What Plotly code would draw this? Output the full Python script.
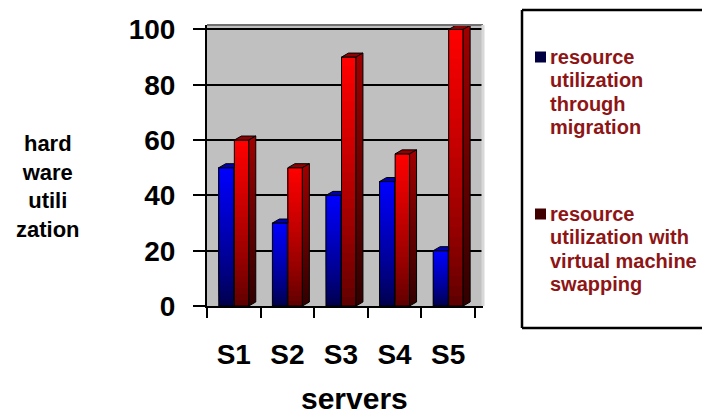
import plotly.graph_objects as go

# ---- data ----
servers = ["S1", "S2", "S3", "S4", "S5"]
migration = [50, 30, 40, 45, 20]
swapping = [60, 50, 90, 55, 100]
y_tick_values = [0, 20, 40, 60, 80, 100]
series_names = [
    ["resource", "utilization", "through", "migration"],
    ["resource", "utilization with", "virtual machine", "swapping"],
]

# ---- geometry / style ----
W, H = 702, 415
L, R, T, B = 207, 483, 25, 306          # plot area in pixels
X_RANGE = [-0.5, 4.65]
Y_RANGE = [0, 101.6]
FONT = "Arial, 'Liberation Sans', sans-serif"
N_SEG = 28                               # slices used for the vertical shading
DX, DY = 0.13, 1.45                      # depth of the 3-D faces (data units)
LEGEND_LINE = 23.3                       # legend line pitch in pixels


def px_x(p):
    return (p - L) / (R - L)


def px_y(p):
    return (B - p) / (B - T)


def lerp(c0, c1, t):
    return "rgb(%d,%d,%d)" % tuple(round(a + (b - a) * t) for a, b in zip(c0, c1))


fig = go.Figure()

bar_specs = [
    # values, offset, width, bottom colour, top colour
    (migration, -0.28, 0.28, (0, 0, 70), (0, 0, 255)),
    (swapping, 0.01, 0.27, (90, 0, 0), (255, 0, 0)),
]

for values, off, wid, dark, bright in bar_specs:
    # each slice runs from its own base up to the bar top; later (lighter)
    # slices cover the upper part of earlier ones, so no seams appear
    for i in range(N_SEG):
        t = ((i + 0.5) / N_SEG) ** 0.8
        fig.add_trace(go.Bar(
            x=servers, y=[v * (N_SEG - i) / N_SEG for v in values],
            base=[v * i / N_SEG for v in values],
            width=wid, offset=off,
            marker=dict(color=lerp(dark, bright, t), line=dict(width=0)),
            showlegend=False, hoverinfo="skip",
        ))
    fig.add_trace(go.Bar(
        x=servers, y=values, width=wid, offset=off,
        marker=dict(color="rgba(0,0,0,0)", line=dict(color="black", width=1)),
        showlegend=False, hoverinfo="skip",
    ))

# 3-D faces: top caps of both series, right side of the front (red) bars
for k, (vb, vr) in enumerate(zip(migration, swapping)):
    bl, br = k - 0.28, k + 0.01
    rl, rr = k + 0.01, k + 0.28
    fig.add_trace(go.Scatter(
        x=[bl, bl + DX, br, br, bl], y=[vb, vb + DY, vb + DY, vb, vb],
        xaxis="x2", fill="toself", fillcolor="#0000B0",
        line=dict(color="black", width=1), mode="lines",
        showlegend=False, hoverinfo="skip",
    ))
    fig.add_trace(go.Scatter(
        x=[rl, rl + DX, rr + DX, rr, rl], y=[vr, vr + DY, vr + DY, vr, vr],
        xaxis="x2", fill="toself", fillcolor="#900000",
        line=dict(color="black", width=1), mode="lines",
        showlegend=False, hoverinfo="skip",
    ))
    fig.add_trace(go.Scatter(
        x=[rr, rr, rr + DX, rr + DX, rr], y=[0, vr, vr + DY, DY, 0],
        xaxis="x2", fill="toself",
        fillgradient=dict(type="vertical",
                          colorscale=[[0, "#300000"], [1, "#A00000"]]),
        line=dict(color="black", width=1), mode="lines",
        showlegend=False, hoverinfo="skip",
    ))

# ---- wall edges and the legend frame (top, left and bottom sides only) ----
bx0, bx1 = px_x(522), px_x(W)
by0, by1 = px_y(328), px_y(10)
frame = dict(color="black", width=2.5)
shapes = [
    dict(type="line", xref="paper", yref="paper",
         x0=0, x1=1, y0=1, y1=1, line=dict(color="#707070", width=2)),
    dict(type="line", xref="paper", yref="paper",
         x0=1, x1=1, y0=0, y1=1, line=dict(color="#D8D8D8", width=3)),
    dict(type="line", xref="paper", yref="paper", x0=bx0, x1=bx1, y0=by1, y1=by1, line=frame),
    dict(type="line", xref="paper", yref="paper", x0=bx0, x1=bx1, y0=by0, y1=by0, line=frame),
    dict(type="line", xref="paper", yref="paper", x0=bx0, x1=bx0, y0=by0, y1=by1, line=frame),
]
annotations = []
legend_rows = [(57, "#000040"), (214, "#400000")]
for (cy, swatch), lines in zip(legend_rows, series_names):
    shapes.append(dict(type="rect", xref="paper", yref="paper",
                       x0=px_x(535), x1=px_x(546), y0=px_y(cy + 5.5), y1=px_y(cy - 5.5),
                       line=dict(width=0), fillcolor=swatch))
    for j, line in enumerate(lines):
        annotations.append(dict(
            xref="paper", yref="paper", x=px_x(548), y=px_y(cy + j * LEGEND_LINE),
            xanchor="left", yanchor="middle", align="left", showarrow=False,
            text="<b>%s</b>" % line,
            font=dict(family=FONT, size=20, color="#8E1515"),
        ))

annotations.append(dict(
    xref="paper", yref="paper", x=px_x(48), y=px_y(186.5),
    xanchor="center", yanchor="middle", align="center", showarrow=False,
    text="<b>hard<br>ware<br>utili<br>zation</b>",
    font=dict(family=FONT, size=22, color="black"),
))
annotations.append(dict(
    xref="paper", yref="paper", x=px_x(354), y=px_y(398),
    xanchor="center", yanchor="middle", showarrow=False,
    text="<b>servers</b>",
    font=dict(family=FONT, size=30, color="black"),
))

fig.update_layout(
    width=W, height=H,
    margin=dict(l=L, r=W - R, t=T, b=H - B, pad=0),
    paper_bgcolor="white", plot_bgcolor="#C0C0C0",
    barmode="overlay", showlegend=False,
    font=dict(family=FONT, color="black"),
    xaxis=dict(
        type="category", range=X_RANGE, tickson="boundaries",
        ticks="outside", ticklen=10, tickwidth=2, tickcolor="black",
        showline=True, linecolor="black", linewidth=2,
        showgrid=False, zeroline=False,
        tickfont=dict(family=FONT, size=28, color="black"),
        ticktext=["<b>%s</b>" % s for s in servers], tickvals=servers,
        ticklabelstandoff=22,
    ),
    xaxis2=dict(overlaying="x", range=X_RANGE, visible=False),
    yaxis=dict(
        range=Y_RANGE, tickvals=y_tick_values,
        ticktext=["<b>%d</b>" % v for v in y_tick_values],
        ticks="outside", ticklen=12, tickwidth=2, tickcolor="black",
        showline=True, linecolor="black", linewidth=2,
        showgrid=True, gridcolor="black", gridwidth=2, zeroline=False,
        tickfont=dict(family=FONT, size=28, color="black"),
        ticklabelstandoff=12,
    ),
    shapes=shapes, annotations=annotations,
)

fig.write_html("out.html")
